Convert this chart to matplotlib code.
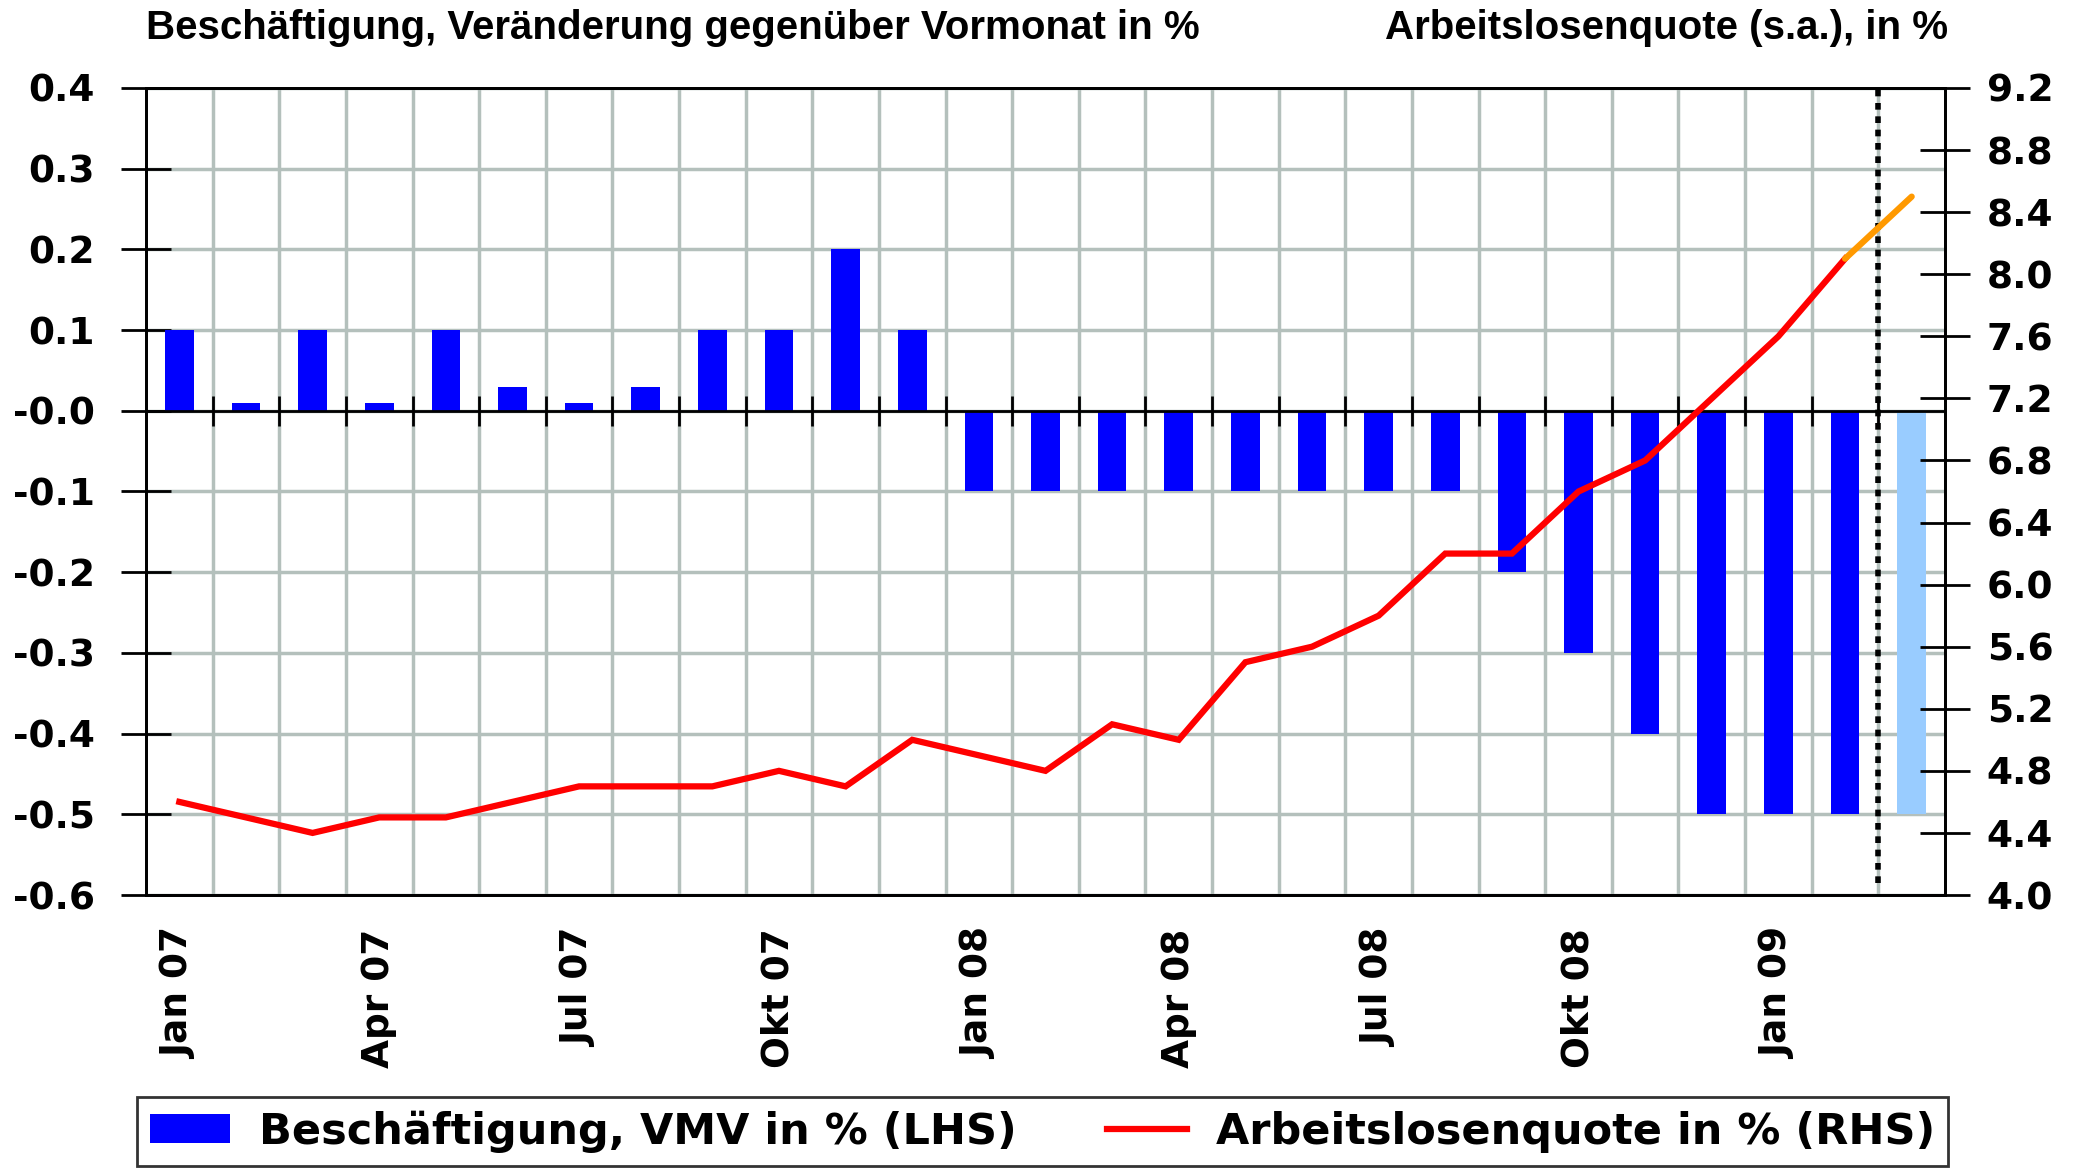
import matplotlib
matplotlib.use("Agg")
import matplotlib.pyplot as plt
from matplotlib.patches import Patch
from matplotlib.lines import Line2D
import numpy as np

months = ["Jan 07", "Feb 07", "Mrz 07", "Apr 07", "Mai 07", "Jun 07", "Jul 07", "Aug 07", "Sep 07",
          "Okt 07", "Nov 07", "Dez 07", "Jan 08", "Feb 08", "Mrz 08", "Apr 08", "Mai 08", "Jun 08",
          "Jul 08", "Aug 08", "Sep 08", "Okt 08", "Nov 08", "Dez 08", "Jan 09", "Feb 09", "Mrz 09"]
employment = [0.1, 0.01, 0.1, 0.01, 0.1, 0.03, 0.01, 0.03, 0.1, 0.1, 0.2, 0.1,
              -0.1, -0.1, -0.1, -0.1, -0.1, -0.1, -0.1, -0.1, -0.2, -0.3, -0.4, -0.5,
              -0.5, -0.5, -0.5]
employment_forecast = [False] * 26 + [True]
unemployment = [4.6, 4.5, 4.4, 4.5, 4.5, 4.6, 4.7, 4.7, 4.7, 4.8, 4.7, 5.0,
                4.9, 4.8, 5.1, 5.0, 5.5, 5.6, 5.8, 6.2, 6.2, 6.6, 6.8, 7.2,
                7.6, 8.1]
unemployment_forecast = [8.1, 8.5]
tick_labels = ["Jan 07", "Apr 07", "Jul 07", "Okt 07", "Jan 08", "Apr 08", "Jul 08", "Okt 08", "Jan 09"]
left_title = "Beschäftigung, Veränderung gegenüber Vormonat in %"
right_title = "Arbeitslosenquote (s.a.), in %"
legend_bar = "Beschäftigung, VMV in % (LHS)"
legend_line = "Arbeitslosenquote in % (RHS)"

W, H = 2085, 1171
fig = plt.figure(figsize=(W / 100, H / 100), dpi=100)
L, R, T, B = 146, 1945, 88, 895
ax = fig.add_axes([L / W, 1 - B / H, (R - L) / W, (B - T) / H])
ax2 = ax.twinx()

x = np.arange(len(months))
grid_c = "#B4C0BC"
blue = "#0000FF"
light = "#99CCFF"

ax.set_xlim(-0.5, len(months) - 0.5)
ax.set_ylim(-0.6, 0.4)
ax2.set_ylim(4.0, 9.2)

# grid
ax.set_yticks(np.round(np.arange(-0.6, 0.41, 0.1), 1))
ax.yaxis.grid(True, color=grid_c, lw=2.5)
ax.set_xticks(np.arange(0.5, len(months) - 0.5, 1), minor=True)
ax.xaxis.grid(True, which="minor", color=grid_c, lw=2.5)
ax.set_axisbelow(True)

colors = [light if f else blue for f in employment_forecast]
ax.bar(x, employment, width=0.43, color=colors, zorder=2)
ax.axhline(0, color="black", lw=2, zorder=3)
ax.plot(np.arange(0.5, len(months) - 0.5, 1), np.zeros(len(months) - 1), ls="none",
        marker="|", markersize=21, markeredgewidth=2, color="black", zorder=3)

ax.axvline(25.5, ymin=0.015, ymax=1, color="black", lw=4, ls=(0, (1.2, 1.2)), zorder=4)

ax2.plot(np.arange(len(unemployment)), unemployment, color="#FF0000", lw=4.5,
         solid_joinstyle="miter", zorder=5)
ax2.plot([len(unemployment) - 1, len(unemployment)], unemployment_forecast, color="#FF9900",
         lw=4.5, solid_capstyle="round", zorder=5)

tick_font = dict(family="DejaVu Sans", weight="bold", size=27)
ax.set_xticks([months.index(t) for t in tick_labels])
ax.set_xticklabels(tick_labels, rotation=90, va="top", ha="center", fontdict=tick_font)
ax.tick_params(axis="x", which="both", length=0, pad=24)
ax.tick_params(axis="y", direction="inout", length=36, width=2, pad=19)
ax.set_yticklabels([f"{v:.1f}" for v in ax.get_yticks()], fontdict=tick_font)

ax2.set_yticks(np.round(np.arange(4.0, 9.21, 0.4), 1))
ax2.set_yticklabels([f"{v:.1f}" for v in np.arange(4.0, 9.21, 0.4)], fontdict=tick_font)
ax2.tick_params(axis="y", direction="inout", length=36, width=2, pad=12)

for a in (ax, ax2):
    for s in a.spines.values():
        s.set_linewidth(2)

fig.text(L / W, 1 - 28 / H, left_title, ha="left", va="center",
         family="Liberation Sans", weight="bold", size=29)
fig.text(1948 / W, 1 - 28 / H, right_title, ha="right", va="center",
         family="Liberation Sans", weight="bold", size=29)

handles = [Patch(facecolor=blue, edgecolor="none"), Line2D([], [], color="#FF0000", lw=4.5)]
leg = fig.legend(handles, [legend_bar, legend_line], loc="center",
                 bbox_to_anchor=(137 / W, 1 - 1170 / H, (1948 - 137) / W, 77 / H),
                 mode="expand", ncol=2, frameon=True, fancybox=False,
                 prop=dict(family="DejaVu Sans", weight="bold", size=31),
                 handlelength=1.85, handleheight=0.68, borderaxespad=0, columnspacing=0.8,
                 handletextpad=0.68, borderpad=0.3)
leg.get_frame().set_edgecolor("black")
leg.get_frame().set_linewidth(2)

fig.savefig("out.png", dpi=100)
